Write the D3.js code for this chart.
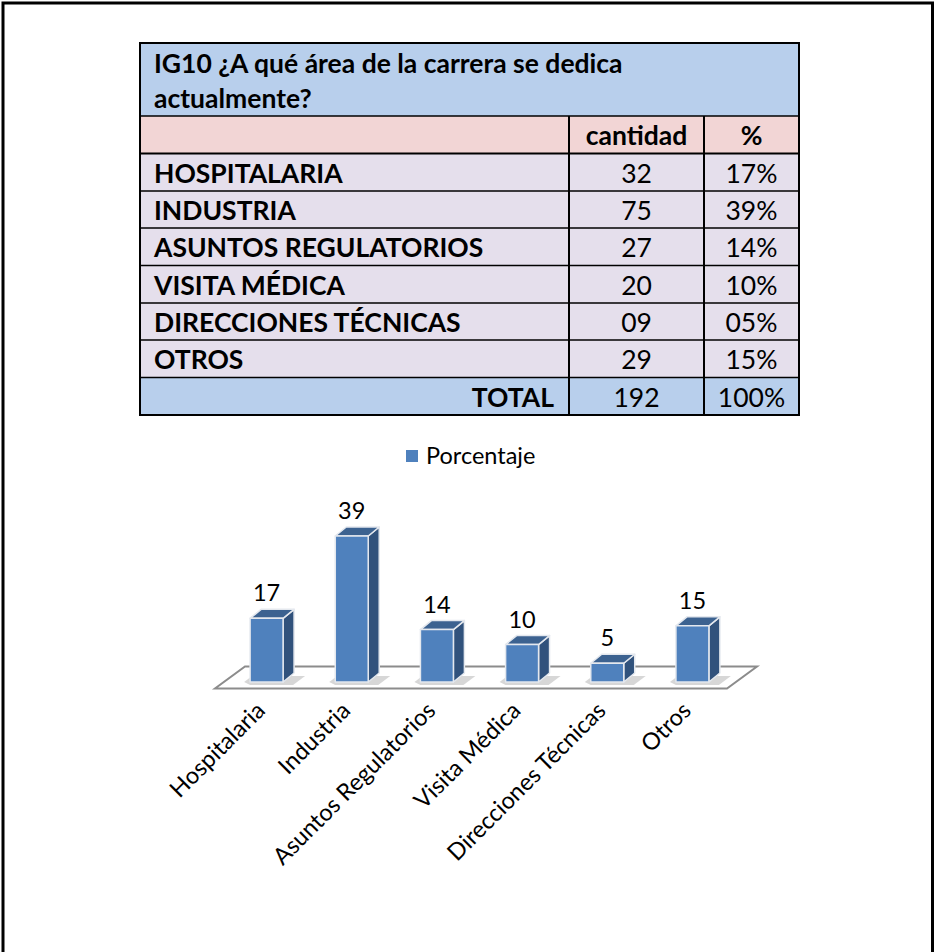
<!DOCTYPE html>
<html><head><meta charset="utf-8">
<script src="https://cdn.jsdelivr.net/npm/d3@7/dist/d3.min.js"></script>
<style>html,body{margin:0;padding:0;background:#fff}svg{display:block}text{font-family:Lato,"Open Sans",sans-serif;fill:#000}</style>
</head><body><svg id="c" width="935" height="952"></svg>
<script>
const titleLines = ["IG10  ¿A qué área de la carrera se dedica", "actualmente?"];
const headers = ["cantidad", "%"];
const rowNames = ["HOSPITALARIA","INDUSTRIA","ASUNTOS REGULATORIOS","VISITA MÉDICA","DIRECCIONES TÉCNICAS","OTROS"];
const cantidades = ["32","75","27","20","09","29"];
const porcentajes = ["17%","39%","14%","10%","05%","15%"];
const totalRow = ["TOTAL","192","100%"];
const categories = ["Hospitalaria","Industria","Asuntos Regulatorios","Visita Médica","Direcciones Técnicas","Otros"];
const values = [17,39,14,10,5,15];
const seriesName = "Porcentaje";

const svg = d3.select("#c");
svg.append("rect").attr("x",3).attr("y",3).attr("width",929.5).attr("height",960).attr("fill","none").attr("stroke","#000").attr("stroke-width",3);

// table
const cols=[140,569,704,799], rowY=[43,116,153.5,191,228,265.5,303,340,377.5,415];
const blue="#b8cfec", pink="#f2d5d5", lilac="#e5dfec";
const tb=svg.append("g");
const fs=26.5;
function cell(x,y,w,h,fill){tb.append("rect").attr("x",x).attr("y",y).attr("width",w).attr("height",h).attr("fill",fill);}
cell(140,43,659,73,blue);
cell(140,116,659,37.5,pink);
d3.range(6).forEach(i=>cell(140,rowY[i+2],659,rowY[i+3]-rowY[i+2],lilac));
cell(140,377.5,659,37.5,blue);
rowY.forEach((y,i)=>tb.append("line").attr("x1",139).attr("x2",800).attr("y1",y).attr("y2",y).attr("stroke","#000").attr("stroke-width",(i==0||i==9||i==2)?2:1.5));
[140,799].forEach(x=>tb.append("line").attr("x1",x).attr("x2",x).attr("y1",43).attr("y2",415).attr("stroke","#000").attr("stroke-width",2));
[569,704].forEach(x=>tb.append("line").attr("x1",x).attr("x2",x).attr("y1",116).attr("y2",415).attr("stroke","#000").attr("stroke-width",2));
function t(x,y,s,o={}){return tb.append("text").attr("x",x).attr("y",y).attr("font-size",o.fs||fs).attr("font-weight",o.b?700:400).attr("text-anchor",o.a||"start").text(s);}
titleLines.forEach((s,i)=>t(154,73+i*35,s,{b:1}));
t(636.5,145,headers[0],{b:1,a:"middle"});
t(751.5,145,headers[1],{b:1,a:"middle"});
rowNames.forEach((n,i)=>{const y=rowY[i+2]+29;
 t(154,y,n,{b:1}); t(636.5,y,cantidades[i],{a:"middle"}); t(751.5,y,porcentajes[i],{a:"middle"});});
t(554,407,totalRow[0],{b:1,a:"end"}); t(636.5,407,totalRow[1],{a:"middle"}); t(751.5,407,totalRow[2],{a:"middle"});

// legend
svg.append("rect").attr("x",406).attr("y",450).attr("width",12).attr("height",12).attr("fill","#4f81bd");
svg.append("text").attr("x",426).attr("y",464).attr("font-size",23.5).text(seriesName);

// chart
const x=d3.scaleBand().domain(categories).range([224,735]).paddingInner(0.613).paddingOuter(0.3065);
const y=d3.scaleLinear().domain([0,39]).range([682,536]);
const dx=11,dy=-9;
const floor=svg.append("g");
floor.append("path").attr("d","M215,688.5L727,688.5L757,666.5L245,666.5Z").attr("fill","#fff").attr("stroke","#8c8c8c").attr("stroke-width",2);
const g=svg.selectAll(".bar").data(categories.map((c,i)=>({c,v:values[i]}))).join("g");
g.append("path").attr("d",d=>{const l=x(d.c)-6,r=x(d.c)+x.bandwidth()+22;return `M${l},682L${l+8},676L${r},676L${r-12},685L${l+6},685Z`;}).attr("fill","#c9c9c9").attr("opacity",.75);
g.each(function(d){
 const s=d3.select(this),l=x(d.c),w=x.bandwidth(),r=l+w,t0=y(d.v),b=y(0);
 const st={stroke:"#e4e8ee","stroke-width":1.5,"stroke-linejoin":"round"};
 const add=(p,f)=>s.append("path").attr("d",p).attr("fill",f).attr("stroke",st.stroke).attr("stroke-width",st["stroke-width"]).attr("stroke-linejoin",st["stroke-linejoin"]);
 add(`M${r},${b}L${r+dx},${b+dy}L${r+dx},${t0+dy}L${r},${t0}Z`,"#31527c");
 add(`M${l},${t0}L${l+dx},${t0+dy}L${r+dx},${t0+dy}L${r},${t0}Z`,"#3c6290");
 add(`M${l},${t0}H${r}V${b}H${l}Z`,"#4f81bd");
 s.append("text").attr("x",l+w/2).attr("y",t0-17).attr("text-anchor","middle").attr("font-size",23.5).text(d.v);
});
const axis=d3.axisBottom(x).tickSize(0).tickPadding(0);
const ax=svg.append("g").attr("transform","translate(0,712)").call(axis);
ax.select(".domain").remove();
ax.selectAll("text").attr("font-size",23.5).attr("font-family",null).attr("fill","#000").attr("text-anchor","end").attr("dy",null).attr("y",0).attr("x",0).attr("transform","translate(0,0) rotate(-45)");
</script></body></html>
